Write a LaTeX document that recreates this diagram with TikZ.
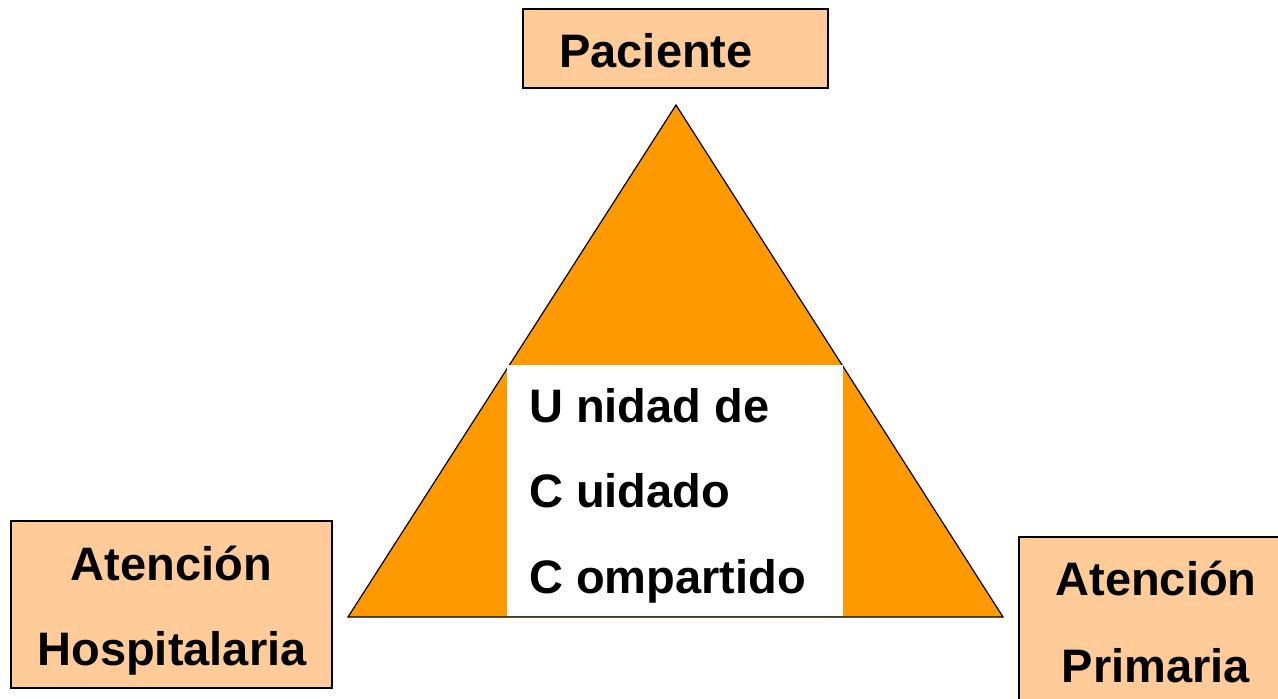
\documentclass[tikz,border=0pt]{standalone}
\usepackage{fontspec}
\setmainfont{Liberation Sans}
\definecolor{tri}{HTML}{FF9900}
\definecolor{boxfill}{HTML}{FFCC99}
\begin{document}
\begin{tikzpicture}[x=1pt,y=-1pt,
  lbl/.style={font=\fontsize{47}{56}\selectfont\bfseries, inner sep=0pt},
  boxstyle/.style={draw=black, line width=1.2pt, fill=boxfill}]
\useasboundingbox (0,0) rectangle (1278,699);
% boxes
\draw[boxstyle] (523,9) rectangle (828,88);
\draw[boxstyle] (11,521) rectangle (332,688);
\draw[boxstyle] (1019,537) rectangle (1290,710);
% triangle
\coordinate (apex) at (676,105);
\coordinate (bl) at (348,617);
\coordinate (br) at (1003,617);
\draw[fill=tri, line width=1.2pt, line join=miter] (apex) -- (bl) -- (br) -- cycle;
\fill[white] (507,365) rectangle (843,615.5);
% labels
\node[lbl, anchor=base] (pac) at (656,67) {Paciente};
\node[lbl, anchor=base] (ah1) at (171.5,580) {Atención};
\node[lbl, anchor=base] (ah2) at (172,665) {Hospitalaria};
\node[lbl, anchor=base] (ap1) at (1156,595) {Atención};
\node[lbl, anchor=base] (ap2) at (1156,682) {Primaria};
\node[lbl, anchor=base west] (u1) at (529,422) {U nidad de};
\node[lbl, anchor=base west] (u2) at (529,507) {C uidado};
\node[lbl, anchor=base west] (u3) at (529,593) {C ompartido};
\end{tikzpicture}
\end{document}
